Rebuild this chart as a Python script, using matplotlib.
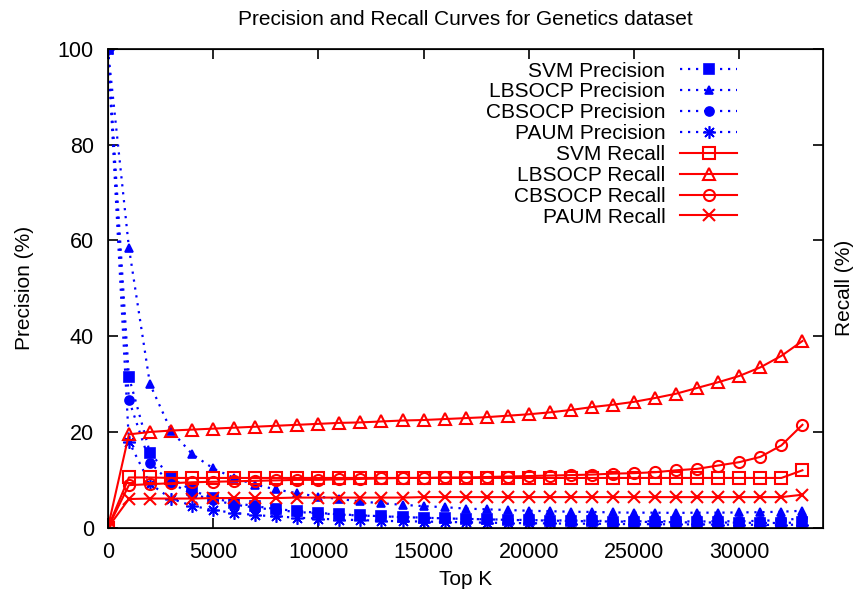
import matplotlib
matplotlib.use("Agg")
import matplotlib.pyplot as plt

plt.rcParams["font.family"] = ["Liberation Sans", "DejaVu Sans"]
plt.rcParams["font.size"] = 15

# Top K values (x axis)
TOP_K = [0, 1000, 2000, 3000, 4000, 5000, 6000, 7000, 8000, 9000,
         10000, 11000, 12000, 13000, 14000, 15000, 16000, 17000, 18000, 19000,
         20000, 21000, 22000, 23000, 24000, 25000, 26000, 27000, 28000, 29000,
         30000, 31000, 32000, 33000]

# Precision (%) per method
svm_precision = [100, 31.5, 15.7, 10.4, 7.8, 6.2, 5.2, 4.5, 3.9, 3.5,
                 3.1, 2.8, 2.6, 2.4, 2.2, 2.1, 1.95, 1.85, 1.75, 1.65,
                 1.55, 1.5, 1.4, 1.35, 1.3, 1.25, 1.2, 1.15, 1.1, 1.1,
                 1.05, 1.0, 1.0, 1.1]
lbsocp_precision = [100, 58.5, 30.0, 20.3, 15.4, 12.4, 10.4, 9.0, 8.0, 7.2,
                    6.5, 6.0, 5.5, 5.1, 4.8, 4.5, 4.3, 4.0, 3.85, 3.7,
                    3.55, 3.45, 3.35, 3.3, 3.2, 3.15, 3.15, 3.1, 3.15, 3.15,
                    3.2, 3.25, 3.35, 3.55]
cbsocp_precision = [100, 26.7, 13.6, 9.3, 7.1, 5.8, 4.85, 4.2, 3.7, 3.3,
                    3.0, 2.75, 2.55, 2.4, 2.25, 2.1, 1.95, 1.85, 1.75, 1.7,
                    1.6, 1.55, 1.5, 1.45, 1.4, 1.35, 1.35, 1.35, 1.3, 1.35,
                    1.35, 1.45, 1.6, 1.95]
paum_precision = [100, 18.0, 9.2, 6.1, 4.6, 3.7, 3.1, 2.65, 2.35, 2.1,
                  1.9, 1.7, 1.6, 1.45, 1.35, 1.3, 1.2, 1.15, 1.05, 1.0,
                  0.95, 0.9, 0.85, 0.85, 0.8, 0.75, 0.75, 0.7, 0.7, 0.65,
                  0.65, 0.6, 0.6, 0.65]

# Recall (%) per method
svm_recall = [0, 10.5, 10.5, 10.4, 10.4, 10.4, 10.4, 10.4, 10.4, 10.4,
              10.4, 10.4, 10.4, 10.4, 10.4, 10.4, 10.4, 10.4, 10.4, 10.4,
              10.4, 10.4, 10.4, 10.4, 10.4, 10.4, 10.4, 10.4, 10.4, 10.4,
              10.4, 10.4, 10.4, 12.0]
lbsocp_recall = [0, 19.5, 20.0, 20.3, 20.5, 20.7, 20.9, 21.1, 21.3, 21.5,
                 21.7, 21.9, 22.0, 22.2, 22.4, 22.5, 22.7, 22.9, 23.1, 23.4,
                 23.7, 24.1, 24.6, 25.2, 25.7, 26.3, 27.1, 28.0, 29.2, 30.4,
                 31.7, 33.5, 35.9, 39.0]
cbsocp_recall = [0, 8.9, 9.1, 9.3, 9.5, 9.6, 9.7, 9.8, 9.9, 10.0,
                 10.0, 10.1, 10.2, 10.3, 10.4, 10.4, 10.5, 10.5, 10.6, 10.7,
                 10.8, 10.9, 11.0, 11.1, 11.3, 11.4, 11.6, 12.0, 12.3, 13.0,
                 13.7, 14.8, 17.2, 21.5]
paum_recall = [0, 6.0, 6.1, 6.1, 6.1, 6.2, 6.2, 6.2, 6.2, 6.3,
               6.3, 6.3, 6.3, 6.3, 6.3, 6.4, 6.4, 6.4, 6.4, 6.4,
               6.4, 6.4, 6.4, 6.4, 6.4, 6.4, 6.4, 6.4, 6.4, 6.4,
               6.4, 6.4, 6.4, 6.9]

BLUE = "#0000ff"
RED = "#ff0000"
DOTTED = (0, (1, 2.6))

fig = plt.figure(figsize=(8.56, 5.97), dpi=100)
ax = fig.add_axes([0.126, 0.116, 0.836, 0.802])

# precision curves: blue dotted, filled markers
prec_series = [
    ("SVM Precision", svm_precision, "s", 7),
    ("LBSOCP Precision", lbsocp_precision, "^", 6),
    ("CBSOCP Precision", cbsocp_precision, "o", 6.5),
    ("PAUM Precision", paum_precision, (8, 2, 0), 9),
]
for label, vals, mk, ms in prec_series:
    ax.plot(TOP_K, vals, color=BLUE, linestyle=DOTTED, linewidth=1.6,
            marker=mk, markersize=ms, markerfacecolor=BLUE,
            markeredgecolor=BLUE, markeredgewidth=1.2, label=label)

# recall curves: red solid, open markers
rec_series = [
    ("SVM Recall", svm_recall, "s", 8),
    ("LBSOCP Recall", lbsocp_recall, "^", 9),
    ("CBSOCP Recall", cbsocp_recall, "o", 8),
    ("PAUM Recall", paum_recall, "x", 8),
]
for label, vals, mk, ms in rec_series:
    ax.plot(TOP_K, vals, color=RED, linestyle="-", linewidth=1.5,
            marker=mk, markersize=ms, markerfacecolor="none",
            markeredgecolor=RED, markeredgewidth=1.5, label=label)

ax.set_xlim(0, 34000)
ax.set_ylim(0, 100)
ax.set_xticks([0, 5000, 10000, 15000, 20000, 25000, 30000])
ax.set_yticks([0, 20, 40, 60, 80, 100])
ax.tick_params(direction="in", length=7, width=1.2, top=True, right=True,
               pad=10, labelsize=15.5)
for sp in ax.spines.values():
    sp.set_linewidth(1.2)

ax.set_xlabel("Top K", labelpad=5)
ax.set_ylabel("Precision (%)", labelpad=17)
ax.set_title("Precision and Recall Curves for Genetics dataset", fontsize=15, pad=17)

# right-hand label for recall (same scale, no tick labels)
ax2 = ax.twinx()
ax2.set_ylim(0, 100)
ax2.set_yticks([0, 20, 40, 60, 80, 100])
ax2.tick_params(direction="in", length=7, width=1.2, labelright=False)
ax2.set_ylabel("Recall (%)", labelpad=8)

leg = ax.legend(loc="upper right", bbox_to_anchor=(0.9, 1.004), frameon=False,
                markerfirst=False, handlelength=2.75, handletextpad=0.7,
                labelspacing=0.09, borderpad=0.2, fontsize=15)
leg._legend_box.align = "right"

fig.savefig("out.png", dpi=100)
